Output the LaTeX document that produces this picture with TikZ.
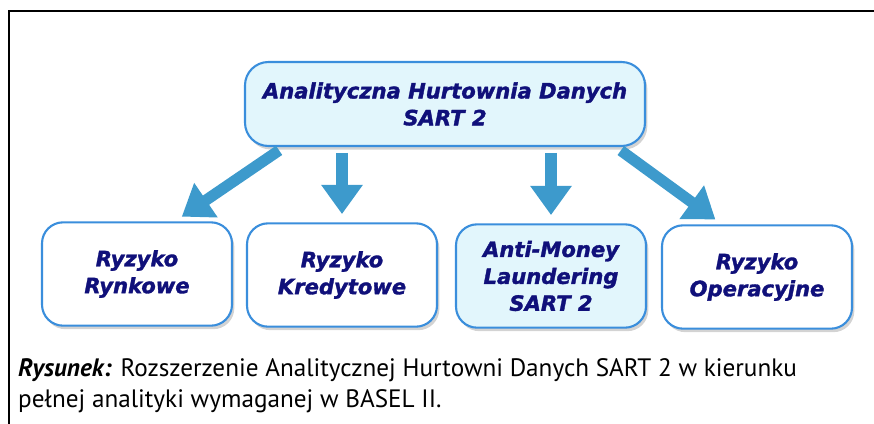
\documentclass[tikz,border=0pt]{standalone}
\usepackage{fontspec}
\setmainfont{PT Sans}
\newfontfamily\boxfont{DejaVu Sans}[BoldItalicFeatures={FakeBold=1.6}]
\usetikzlibrary{arrows.meta,shadows}
\definecolor{navy}{HTML}{10107A}
\definecolor{edgeblue}{HTML}{3A8EDC}
\definecolor{arrowblue}{HTML}{3D9ACC}
\definecolor{paleblue}{HTML}{E2F6FC}
\tikzset{
  riskbox/.style={draw=edgeblue, line width=1.8pt, rounded corners=18pt,
    fill=white, drop shadow={shadow xshift=2pt, shadow yshift=-3pt, opacity=0.35},
    minimum width=5.7cm, minimum height=3.1cm, align=center, text=navy,
    font=\boxfont\bfseries\itshape\fontsize{18}{23}\selectfont},
  bigarrow/.style={draw=arrowblue, line width=9.5pt,
    -{Triangle[width=34pt,length=25pt]}, shorten <=5pt, shorten >=7pt}
}
\begin{document}
\begin{tikzpicture}[x=0.03cm,y=-0.03cm]
  \useasboundingbox (0,0) rectangle (874,424);
  % Draw frame
  \draw[line width=2.4pt] (874,11) -| (9,424);
  % Draw boxes
  \node[riskbox, fill=paleblue, minimum width=12cm, minimum height=2.52cm,
        rounded corners=20pt] (ahd) at (445,104)
        {Analityczna Hurtownia Danych\\SART 2};
  \node[riskbox] (rynk) at (137,274) {Ryzyko\\Rynkowe};
  \node[riskbox] (kred) at (342,275) {Ryzyko\\Kredytowe};
  \node[riskbox, fill=paleblue] (aml) at (551,276)
        {Anti-Money\\Laundering\\SART 2};
  \node[riskbox] (oper) at (757,277) {Ryzyko\\Operacyjne};
  % Draw arrows
  \draw[bigarrow] ([xshift=1.2cm]ahd.south west) -- ([xshift=1.14cm]rynk.north);
  \draw[bigarrow] (kred.north |- ahd.south) -- (kred.north);
  \draw[bigarrow] (aml.north |- ahd.south) -- (aml.north);
  \draw[bigarrow] ([xshift=-0.9cm]ahd.south east) -- ([xshift=-1.05cm]oper.north);
  % Draw caption
  \node[anchor=north west, align=left, inner sep=0pt,
        font=\fontsize{21.5}{27}\selectfont] (caption) at (18,358)
        {\textbf{\textit{Rysunek:}} Rozszerzenie Analitycznej Hurtowni Danych SART 2 w kierunku\\
         pełnej analityki wymaganej w BASEL II.};
\end{tikzpicture}
\end{document}
